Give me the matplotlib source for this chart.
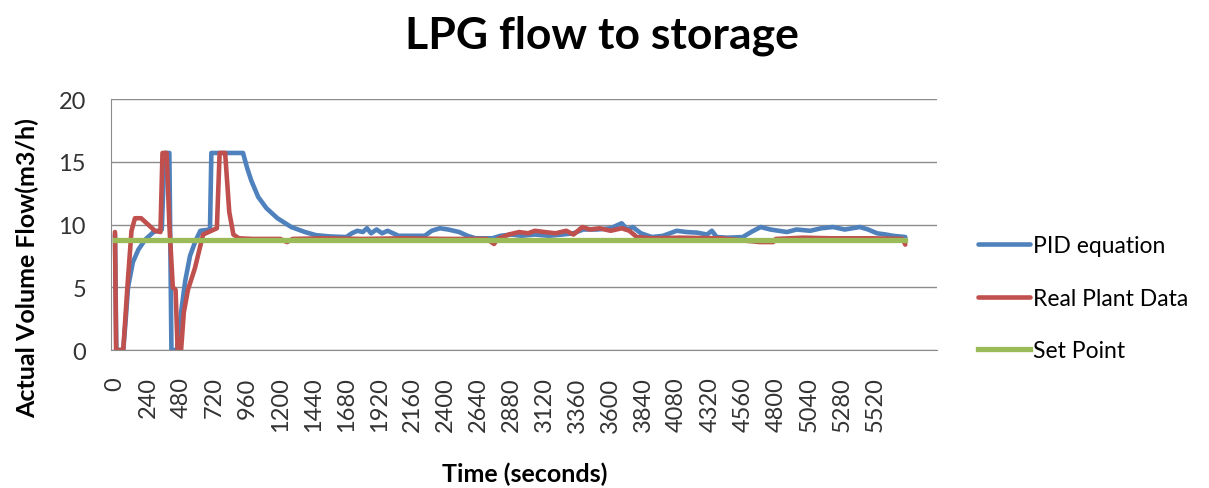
import matplotlib
matplotlib.use("Agg")
import matplotlib.pyplot as plt

plt.rcParams['font.family'] = ['Lato', 'DejaVu Sans']

# PID equation (time in s, flow in m3/h)
pid_t = [0, 10, 60, 75, 95, 130, 170, 220, 280, 340, 360, 395, 410, 450, 480, 510,
         545, 585, 620, 690, 700, 930, 960, 990, 1040, 1100, 1180, 1280, 1380, 1460,
         1560, 1680, 1720, 1760, 1800, 1830, 1860, 1900, 1940, 1980, 2020, 2060, 2150,
         2250, 2300, 2360, 2420, 2500, 2560, 2620, 2740, 2800, 2880, 2950, 3050, 3150,
         3250, 3330, 3400, 3500, 3600, 3680, 3720, 3760, 3820, 3900, 3980, 4080, 4150,
         4230, 4300, 4335, 4370, 4450, 4560, 4620, 4690, 4760, 4820, 4880, 4950, 5050,
         5130, 5215, 5300, 5410, 5470, 5535, 5600, 5650, 5740]
pid_v = [9.2, 0, 0, 2, 5, 7, 8, 8.8, 9.4, 9.6, 15.7, 15.7, 0, 0, 3, 5.5,
         7.5, 8.7, 9.5, 9.6, 15.7, 15.7, 14.5, 13.5, 12.2, 11.3, 10.5, 9.8, 9.4, 9.15,
         9.05, 9.0, 9.3, 9.5, 9.4, 9.7, 9.3, 9.6, 9.3, 9.5, 9.3, 9.1, 9.1,
         9.1, 9.5, 9.7, 9.6, 9.4, 9.1, 8.9, 8.9, 9.1, 9.2, 9.1, 9.2, 9.1,
         9.2, 9.3, 9.6, 9.6, 9.7, 10.1, 9.6, 9.8, 9.3, 9.0, 9.1, 9.5, 9.4,
         9.35, 9.2, 9.5, 9.0, 8.95, 9.0, 9.4, 9.8, 9.6, 9.5, 9.4, 9.6, 9.5,
         9.7, 9.8, 9.6, 9.8, 9.6, 9.3, 9.2, 9.1, 9.0]

# Real plant data
plant_t = [0, 8, 60, 90, 120, 145, 190, 240, 290, 330, 345, 375, 395, 420, 440, 455,
           480, 500, 530, 580, 640, 700, 740, 760, 800, 830, 860, 900, 1000, 1200,
           1250, 1290, 1500, 1800, 2100, 2400, 2700, 2753, 2780, 2860, 2935, 3000,
           3050, 3120, 3200, 3277, 3330, 3395, 3450, 3520, 3600, 3680, 3736, 3790,
           3900, 4100, 4400, 4683, 4780, 4800, 5000, 5200, 5500, 5720, 5740]
plant_v = [9.4, 0, 0, 5, 9.5, 10.5, 10.5, 10.0, 9.5, 9.4, 15.7, 15.7, 10, 5, 4.8, 0,
           0, 3, 4.8, 6.5, 9.2, 9.5, 9.7, 15.7, 15.7, 11, 9.2, 8.9, 8.85, 8.85,
           8.6, 8.85, 8.9, 8.85, 8.9, 8.85, 8.85, 8.45, 8.85, 9.2, 9.4, 9.3,
           9.5, 9.4, 9.3, 9.5, 9.2, 9.8, 9.6, 9.7, 9.5, 9.7, 9.5, 9.0,
           8.9, 8.95, 8.9, 8.6, 8.6, 8.85, 8.95, 8.9, 8.9, 8.85, 8.4]

# Set point
sp_t = [0, 5740]
sp_v = [8.8, 8.8]

tick_times = list(range(0, 5521, 240))

fig = plt.figure(figsize=(12.09, 4.89), dpi=100)
ax = fig.add_axes([0.0918, 0.2822, 0.6832, 0.5133])

ax.plot(pid_t, pid_v, color='#4F81BD', linewidth=3.3, label='PID equation', solid_capstyle='round')
ax.plot(plant_t, plant_v, color='#C0504D', linewidth=3.3, label='Real Plant Data', solid_capstyle='round')
ax.plot(sp_t, sp_v, color='#9BBB59', linewidth=3.8, label='Set Point')

ax.set_xlim(-29, 5970)
ax.set_ylim(0, 20)
ax.set_yticks([0, 5, 10, 15, 20])
ax.set_xticks(tick_times)
ax.set_xticklabels([str(t) for t in tick_times], rotation=90)
ax.tick_params(axis='both', labelsize=17, length=0, colors='#333333')
ax.tick_params(axis='x', pad=19)
ax.tick_params(axis='y', pad=18)
ax.grid(axis='y', color='#8c8c8c', linewidth=1)
ax.set_axisbelow(True)
for s in ['top', 'right']:
    ax.spines[s].set_visible(False)
for s in ['left', 'bottom']:
    ax.spines[s].set_color('#8c8c8c')

fig.text(0.498, 0.926, 'LPG flow to storage', ha='center', va='center',
         fontsize=32, fontweight='bold')
fig.text(0.434, 0.031, 'Time (seconds)', ha='center', va='center',
         fontsize=18, fontweight='bold')
fig.text(0.0227, 0.452, 'Actual Volume Flow(m3/h)', ha='center', va='center',
         rotation=90, fontsize=18, fontweight='bold')

ax.legend(loc='upper left', bbox_to_anchor=(0.7998, 0.54), bbox_transform=fig.transFigure,
          frameon=False, fontsize=16.5, handlelength=2.26, handletextpad=0.12,
          labelspacing=1.37, borderpad=0)

fig.savefig('out.png', dpi=100)
